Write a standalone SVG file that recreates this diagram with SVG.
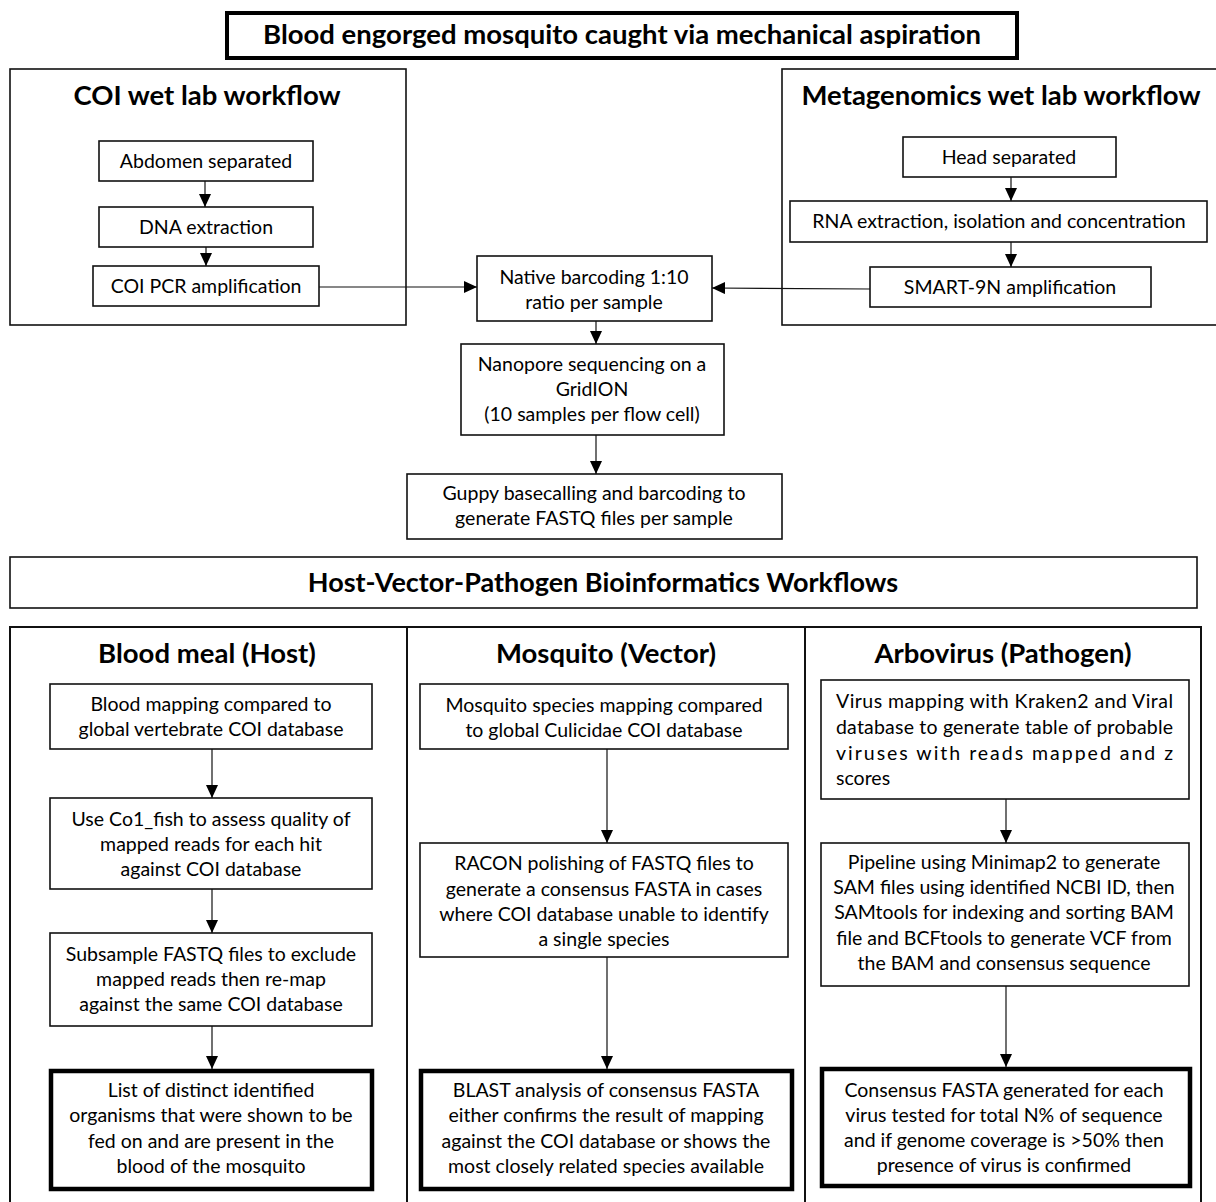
<svg xmlns="http://www.w3.org/2000/svg" width="1216" height="1202" viewBox="0 0 1216 1202">
<defs>
<marker id="ah" viewBox="0 0 10 10" refX="10" refY="5" markerWidth="13" markerHeight="12" markerUnits="userSpaceOnUse" orient="auto" preserveAspectRatio="none">
<path d="M0,0 L10,5 L0,10 z" fill="#000"/>
</marker>
<style>
text{font-family:Lato,"Open Sans","Liberation Sans",sans-serif;fill:#000;}
.t{font-size:19.5px;text-anchor:middle;}
.j{font-size:19.5px;}
.h{font-size:27.5px;font-weight:bold;text-anchor:middle;}
.box{fill:#fff;stroke:#111;stroke-width:1.6;}
.thick{fill:#fff;stroke:#000;stroke-width:4.5;}
.frame{fill:#fff;stroke:#111;stroke-width:1.6;}
.col{fill:none;stroke:#111;stroke-width:2;}
.c{fill:none;stroke:#111;stroke-width:1.2;marker-end:url(#ah);}
</style>
</defs>
<rect width="1216" height="1202" fill="#fff"/>

<g id="title">
<rect x="227" y="13" width="790" height="45" class="thick" style="stroke-width:4"/>
<text class="h" x="622" y="44">Blood engorged mosquito caught via mechanical aspiration</text>
</g>

<g id="coi-workflow">
<rect x="10" y="69" width="396" height="256" class="frame"/>
<text class="h" x="207" y="105">COI wet lab workflow</text>
</g>
<g id="abdomen"><rect x="99" y="141" width="214" height="40" class="box"/><text class="t" x="206" y="168">Abdomen separated</text></g>
<g id="dna"><rect x="99" y="207" width="214" height="40" class="box"/><text class="t" x="206" y="234">DNA extraction</text></g>
<g id="coipcr"><rect x="93" y="266" width="226" height="40" class="box"/><text class="t" x="206" y="293">COI PCR amplification</text></g>

<g id="meta-workflow">
<rect x="782" y="69" width="440" height="256" class="frame"/>
<text class="h" x="1001" y="105">Metagenomics wet lab workflow</text>
</g>
<g id="head"><rect x="903" y="137" width="213" height="40" class="box"/><text class="t" x="1009" y="164">Head separated</text></g>
<g id="rna"><rect x="790" y="201" width="417" height="41" class="box"/><text class="t" x="999" y="228">RNA extraction, isolation and concentration</text></g>
<g id="smart"><rect x="870" y="267" width="281" height="40" class="box"/><text class="t" x="1010" y="294">SMART-9N amplification</text></g>

<g id="native"><rect x="477" y="256" width="235" height="65" class="box"/>
<text class="t" x="594" y="284">Native barcoding 1:10</text><text class="t" x="594" y="309">ratio per sample</text></g>
<g id="nanopore"><rect x="461" y="344" width="263" height="91" class="box"/>
<text class="t" x="592" y="371">Nanopore sequencing on a</text><text class="t" x="592" y="396">GridION</text><text class="t" x="592" y="421">(10 samples per flow cell)</text></g>
<g id="guppy"><rect x="407" y="474" width="375" height="65" class="box"/>
<text class="t" x="594" y="500">Guppy basecalling and barcoding to</text><text class="t" x="594" y="525">generate FASTQ files per sample</text></g>

<g id="bioinfo-title"><rect x="10" y="557" width="1187" height="51" class="frame"/>
<text class="h" x="603" y="592" style="font-size:27px">Host-Vector-Pathogen Bioinformatics Workflows</text></g>

<g id="host-col"><rect x="10" y="627" width="397" height="580" class="col"/>
<text class="h" x="207" y="663">Blood meal (Host)</text></g>
<g id="host1"><rect x="50" y="684" width="322" height="65" class="box"/>
<text class="t" x="211" y="711">Blood mapping compared to</text><text class="t" x="211" y="736">global vertebrate  COI database</text></g>
<g id="host2"><rect x="50" y="798" width="322" height="91" class="box"/>
<text class="t" x="211" y="826">Use Co1_fish to assess quality of</text><text class="t" x="211" y="851">mapped reads for each hit</text><text class="t" x="211" y="876">against COI database</text></g>
<g id="host3"><rect x="50" y="933" width="322" height="93" class="box"/>
<text class="t" x="211" y="961">Subsample FASTQ files to exclude</text><text class="t" x="211" y="986">mapped reads then re-map</text><text class="t" x="211" y="1011">against the same COI database</text></g>
<g id="host4"><rect x="51" y="1071" width="321" height="118" class="thick"/>
<text class="t" x="211" y="1097">List of distinct identified</text><text class="t" x="211" y="1122">organisms that were shown to be</text><text class="t" x="211" y="1148">fed on and are present in the</text><text class="t" x="211" y="1173">blood of the mosquito</text></g>

<g id="vector-col"><rect x="407" y="627" width="398" height="580" class="col"/>
<text class="h" x="606" y="663">Mosquito (Vector)</text></g>
<g id="vec1"><rect x="420" y="684" width="368" height="65" class="box"/>
<text class="t" x="604" y="712">Mosquito species mapping compared</text><text class="t" x="604" y="737">to global Culicidae COI database</text></g>
<g id="vec2"><rect x="420" y="843" width="368" height="114" class="box"/>
<text class="t" x="604" y="870">RACON polishing of FASTQ files to</text><text class="t" x="604" y="896">generate a consensus FASTA in cases</text><text class="t" x="604" y="921">where COI database unable to identify</text><text class="t" x="604" y="946">a single species</text></g>
<g id="vec3"><rect x="421" y="1071" width="371" height="118" class="thick"/>
<text class="t" x="606" y="1097">BLAST analysis of consensus FASTA</text><text class="t" x="606" y="1122">either confirms the result of mapping</text><text class="t" x="606" y="1148">against the COI database or shows the</text><text class="t" x="606" y="1173">most closely related species available</text></g>

<g id="path-col"><rect x="805" y="627" width="396" height="580" class="col"/>
<text class="h" x="1003" y="663">Arbovirus (Pathogen)</text></g>
<g id="path1"><rect x="821" y="680" width="368" height="119" class="box"/>
<text class="j" x="836" y="708" textLength="337" lengthAdjust="spacing">Virus mapping with Kraken2 and Viral</text>
<text class="j" x="836" y="734" textLength="337" lengthAdjust="spacing">database to generate table of probable</text>
<text class="j" x="836" y="760" textLength="337" lengthAdjust="spacing">viruses with reads mapped and z</text>
<text class="j" x="836" y="785">scores</text></g>
<g id="path2"><rect x="821" y="843" width="368" height="143" class="box"/>
<text class="t" x="1004" y="869">Pipeline using Minimap2 to generate</text><text class="t" x="1004" y="894">SAM files using identified NCBI ID, then</text><text class="t" x="1004" y="919">SAMtools for indexing and sorting BAM</text><text class="t" x="1004" y="945">file and BCFtools to generate VCF from</text><text class="t" x="1004" y="970">the BAM and consensus sequence</text></g>
<g id="path3"><rect x="822" y="1069" width="368" height="117" class="thick"/>
<text class="t" x="1004" y="1097">Consensus FASTA generated for each</text><text class="t" x="1004" y="1122">virus tested for total N% of sequence</text><text class="t" x="1004" y="1147">and if genome coverage is &gt;50% then</text><text class="t" x="1004" y="1172">presence of virus is confirmed</text></g>

<g id="connectors">
<line x1="205" y1="181" x2="205" y2="207" class="c"/>
<line x1="206" y1="247" x2="206" y2="266" class="c"/>
<line x1="1011" y1="177" x2="1011" y2="201" class="c"/>
<line x1="1011" y1="242" x2="1011" y2="267" class="c"/>
<line x1="319" y1="287" x2="477" y2="287" class="c"/>
<line x1="870" y1="289" x2="712" y2="288" class="c"/>
<line x1="596" y1="321" x2="596" y2="344" class="c"/>
<line x1="596" y1="435" x2="596" y2="474" class="c"/>
<line x1="212" y1="749" x2="212" y2="798" class="c"/>
<line x1="212" y1="889" x2="212" y2="933" class="c"/>
<line x1="212" y1="1026" x2="212" y2="1069" class="c"/>
<line x1="607" y1="749" x2="607" y2="843" class="c"/>
<line x1="607" y1="957" x2="607" y2="1069" class="c"/>
<line x1="1006" y1="799" x2="1006" y2="843" class="c"/>
<line x1="1006" y1="986" x2="1006" y2="1067" class="c"/>
</g>
</svg>
